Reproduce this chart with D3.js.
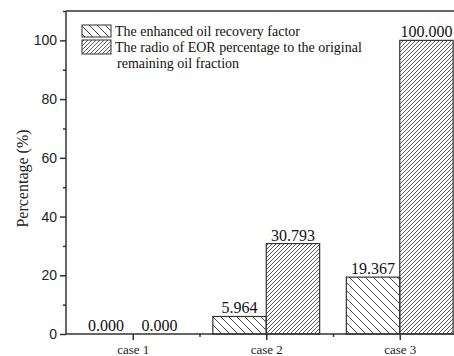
<!DOCTYPE html>
<html>
<head>
<meta charset="utf-8">
<script src="https://cdn.jsdelivr.net/npm/d3@7"></script>
<style>
  body { margin: 0; background: #fff; }
  svg { display: block; }
</style>
</head>
<body>
<div id="chart"></div>
<script>
// chart values
const cases = ["case 1", "case 2", "case 3"];
const recoveryFactor = [0.000, 5.964, 19.367];
const eorRatio = [0.000, 30.793, 100.000];
const seriesNames = [
  "The enhanced oil recovery factor",
  "The radio of EOR percentage to the original",
  "remaining oil fraction"
];
const yTicks = [0, 20, 40, 60, 80, 100];

const width = 454, height = 356;
const margin = { top: 11, left: 66, bottom: 334 };

const svg = d3.select("#chart").append("svg")
  .attr("width", width)
  .attr("height", height);

// hatch patterns
const defs = svg.append("defs");
defs.append("pattern")
  .attr("id", "back")
  .attr("patternUnits", "userSpaceOnUse")
  .attr("width", 8).attr("height", 8)
  .append("path")
  .attr("d", "M-2,-2 L10,10 M-2,6 L2,10 M6,-2 L10,2")
  .attr("stroke", "#333").attr("stroke-width", 0.9);
defs.append("pattern")
  .attr("id", "fwd")
  .attr("patternUnits", "userSpaceOnUse")
  .attr("width", 4).attr("height", 4)
  .append("path")
  .attr("d", "M-1,5 L5,-1 M-1,1 L1,-1 M3,5 L5,3")
  .attr("stroke", "#333").attr("stroke-width", 0.8);

// scales: categories at 1,2,3 on a linear axis like the original plot
const x = d3.scaleLinear().domain([0.5, 3.5]).range([margin.left, margin.left + 3 * 133.5]);
const y = d3.scaleLinear().domain([0, 110]).range([margin.bottom, margin.top]);
const barW = x(1.4) - x(1);

const data = cases.map((c, i) => ({ c, i: i + 1, a: recoveryFactor[i], b: eorRatio[i] }));

// bars
const g = svg.append("g");
g.selectAll(".barA").data(data).enter().append("rect")
  .attr("x", d => x(d.i) - barW)
  .attr("y", d => y(d.a))
  .attr("width", barW)
  .attr("height", d => y(0) - y(d.a))
  .attr("fill", "url(#back)")
  .attr("stroke", "#333").attr("stroke-width", 1.2);
g.selectAll(".barB").data(data).enter().append("rect")
  .attr("x", d => x(d.i))
  .attr("y", d => y(d.b))
  .attr("width", barW)
  .attr("height", d => y(0) - y(d.b))
  .attr("fill", "url(#fwd)")
  .attr("stroke", "#333").attr("stroke-width", 1.2);

// value labels
const lab = svg.append("g")
  .attr("font-family", "'Liberation Serif', 'Times New Roman', serif")
  .attr("font-size", 16).attr("fill", "#111").attr("text-anchor", "middle");
data.forEach(d => {
  lab.append("text").attr("x", x(d.i) - barW / 2).attr("y", y(d.a) - 3).text(d.a.toFixed(3));
  lab.append("text").attr("x", x(d.i) + barW / 2).attr("y", y(d.b) - 3).text(d.b.toFixed(3));
});

// y axis
const yAxis = svg.append("g")
  .attr("transform", `translate(${margin.left},0)`)
  .call(d3.axisLeft(y).tickValues(yTicks).tickSize(6).tickPadding(3));
svg.append("g")
  .attr("transform", `translate(${margin.left},0)`)
  .call(d3.axisLeft(y).tickValues([10, 30, 50, 70, 90, 110]).tickSize(3).tickFormat(""))
  .select(".domain").remove();
yAxis.selectAll("text")
  .attr("font-family", "'Liberation Sans', Arial, sans-serif")
  .attr("font-size", 14).attr("fill", "#222");

// x axis
const xAxis = svg.append("g")
  .attr("transform", `translate(0,${margin.bottom})`)
  .call(d3.axisBottom(x).tickValues([1, 2, 3]).tickSize(6).tickPadding(5)
    .tickFormat(d => cases[d - 1]));
svg.append("g")
  .attr("transform", `translate(0,${margin.bottom})`)
  .call(d3.axisBottom(x).tickValues([1.5, 2.5]).tickSize(3).tickFormat(""))
  .select(".domain").remove();
xAxis.selectAll("text")
  .attr("font-family", "'Liberation Serif', 'Times New Roman', serif")
  .attr("font-size", 13).attr("fill", "#222");

svg.selectAll(".domain, .tick line").attr("stroke", "#333").attr("stroke-width", 1.5);
xAxis.select(".domain").attr("d", `M${margin.left},0H${width}`);
yAxis.select(".domain").attr("d", `M0,${margin.bottom}V${margin.top}`);

// top frame line
svg.append("line")
  .attr("x1", margin.left).attr("x2", width)
  .attr("y1", margin.top).attr("y2", margin.top)
  .attr("stroke", "#333").attr("stroke-width", 1.5);

// y title
svg.append("text")
  .attr("transform", `translate(28,${(margin.top + margin.bottom) / 2 + 6}) rotate(-90)`)
  .attr("text-anchor", "middle")
  .attr("font-family", "'Liberation Serif', 'Times New Roman', serif")
  .attr("font-size", 16).attr("fill", "#222")
  .text("Percentage (%)");

// legend
const leg = svg.append("g")
  .attr("font-family", "'Liberation Serif', 'Times New Roman', serif")
  .attr("font-size", 14).attr("fill", "#111");
leg.append("rect").attr("x", 82).attr("y", 25).attr("width", 29).attr("height", 12)
  .attr("fill", "url(#back)").attr("stroke", "#333").attr("stroke-width", 1);
leg.append("rect").attr("x", 82).attr("y", 40).attr("width", 29).attr("height", 14)
  .attr("fill", "url(#fwd)").attr("stroke", "#333").attr("stroke-width", 1);
leg.append("text").attr("x", 115).attr("y", 36).text(seriesNames[0]);
leg.append("text").attr("x", 115).attr("y", 52).text(seriesNames[1]);
leg.append("text").attr("x", 117).attr("y", 68).text(seriesNames[2]);
</script>
</body>
</html>
